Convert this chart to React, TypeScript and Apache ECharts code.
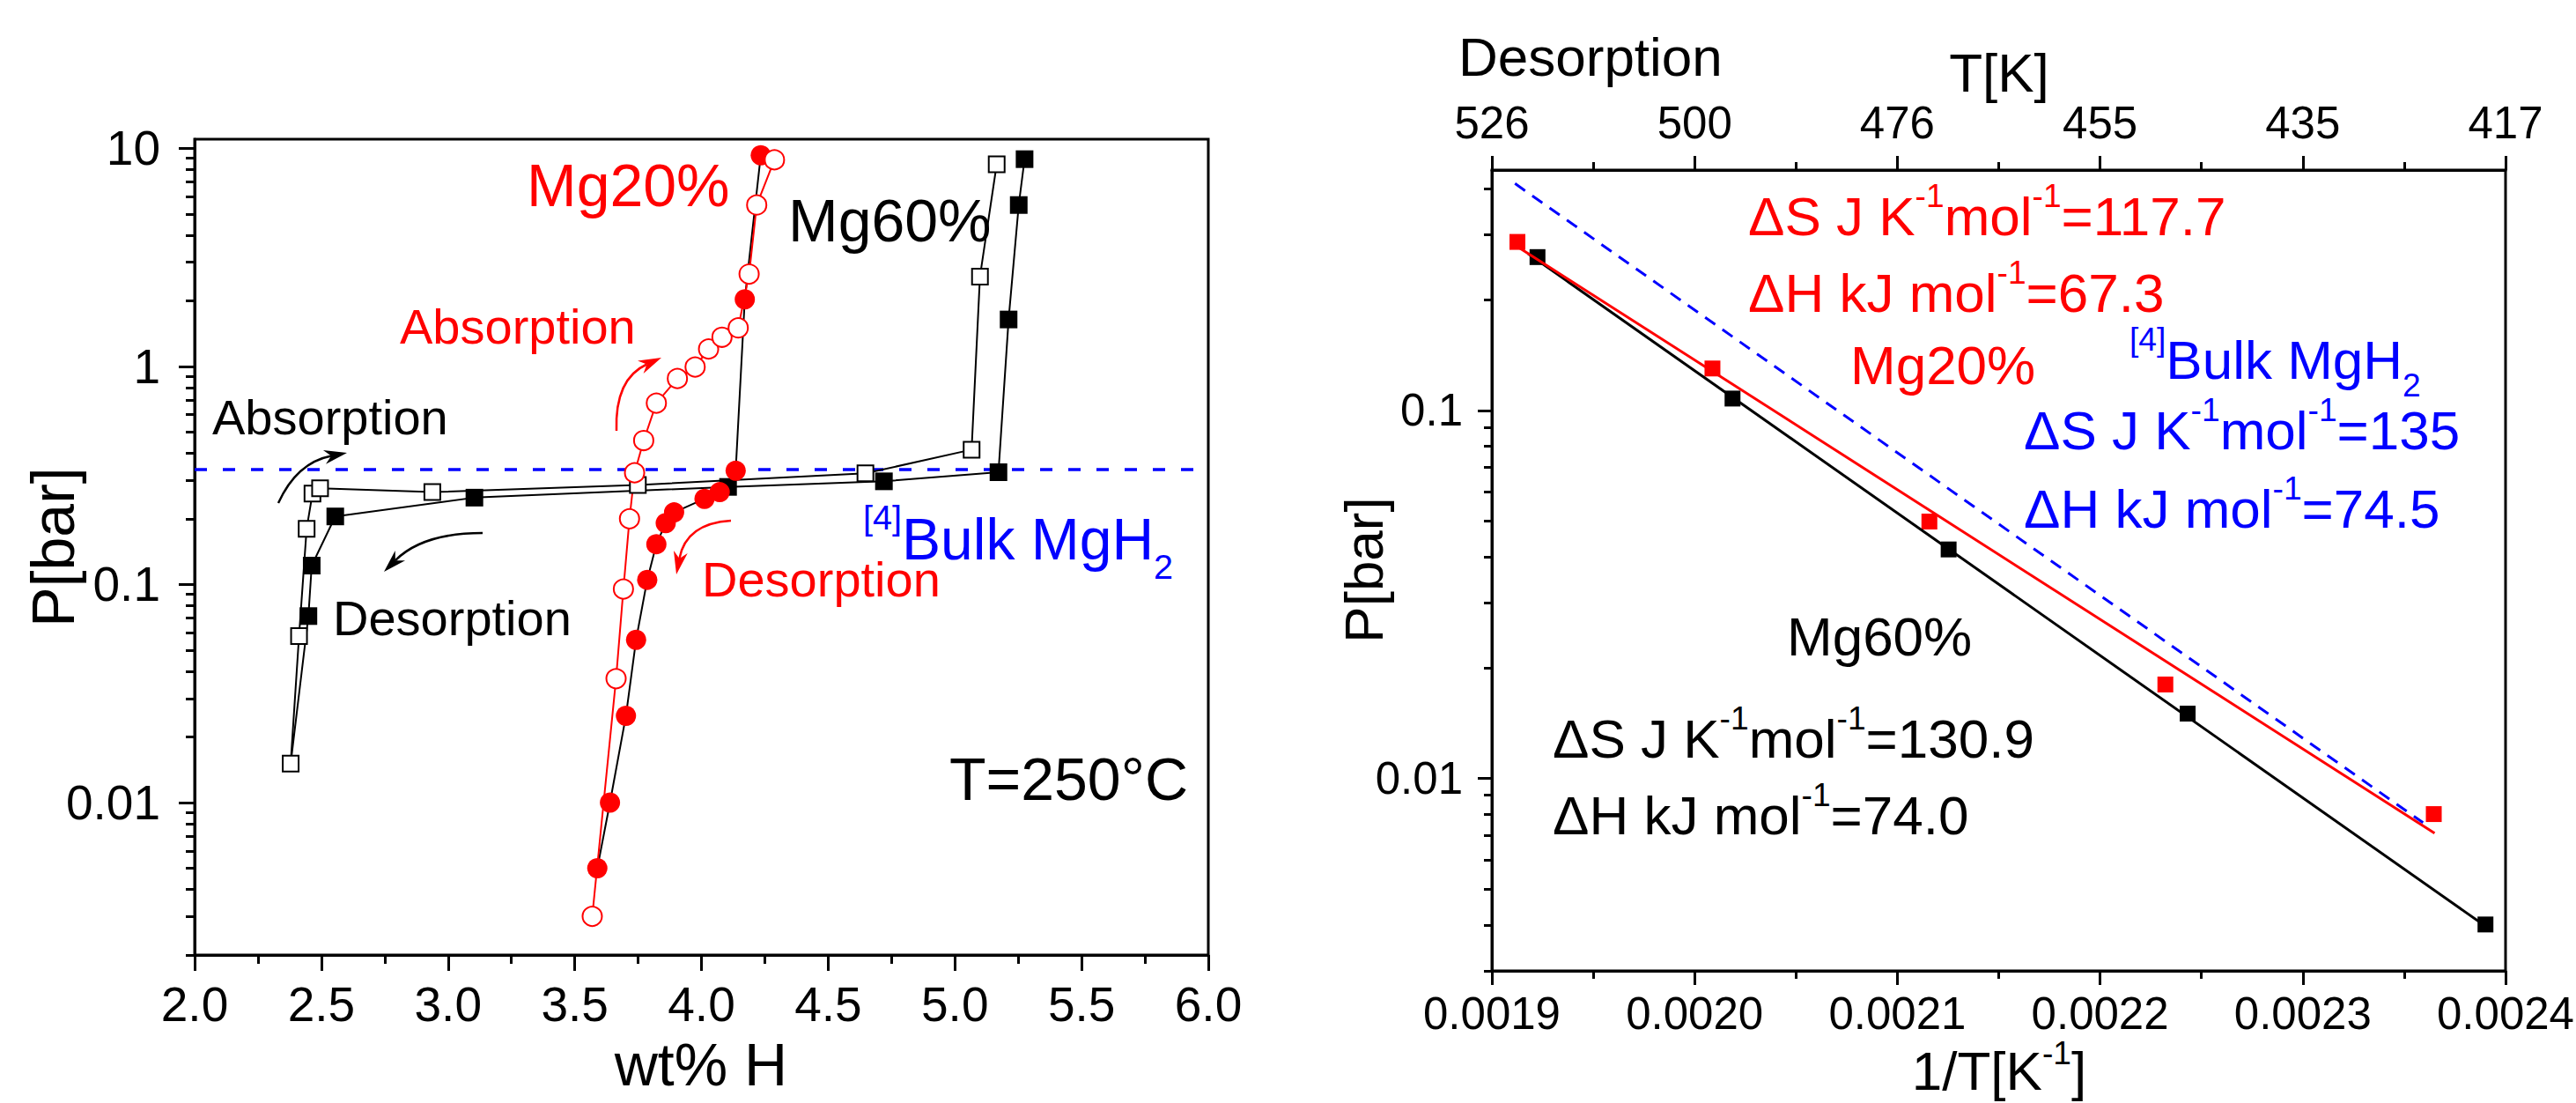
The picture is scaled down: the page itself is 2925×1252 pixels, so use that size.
import React, { useEffect, useRef } from "react";
import * as echarts from "echarts";

const FONT = "'Liberation Sans', Arial, Helvetica, sans-serif";

// ---------- Left panel: PCI isotherms at 250 °C ----------
// Mg60% desorption (filled black squares); last point closes onto absorption start
const mg60DesW = [5.275, 5.252, 5.212, 5.172, 4.72, 4.105, 3.104, 2.555, 2.462, 2.449, 2.379];
const mg60DesP = [8.91, 5.49, 1.64, 0.327, 0.297, 0.28, 0.25, 0.205, 0.122, 0.0716, 0.0151];
// Mg60% absorption (open black squares)
const mg60AbsW = [2.379, 2.412, 2.442, 2.465, 2.495, 2.938, 3.749, 4.647, 5.066, 5.099, 5.165];
const mg60AbsP = [0.0151, 0.058, 0.18, 0.261, 0.276, 0.265, 0.286, 0.323, 0.415, 2.58, 8.44];
// Mg20% desorption (filled red circles)
const mg20DesW = [4.234, 4.171, 4.135, 4.072, 4.012, 3.892, 3.859, 3.822, 3.786, 3.742, 3.702, 3.639, 3.589];
const mg20DesP = [9.28, 2.03, 0.332, 0.265, 0.247, 0.214, 0.191, 0.153, 0.105, 0.0557, 0.025, 0.01, 0.005];
// Mg20% absorption (open red circles)
const mg20AbsW = [3.569, 3.663, 3.692, 3.716, 3.736, 3.772, 3.822, 3.905, 3.975, 4.028, 4.081, 4.145, 4.188, 4.218, 4.288];
const mg20AbsP = [0.00301, 0.037, 0.0953, 0.2, 0.325, 0.457, 0.678, 0.879, 0.993, 1.2, 1.36, 1.5, 2.65, 5.49, 8.85];
// Bulk MgH2 plateau
const bulkPlateauW = [2.0, 6.0];
const bulkPlateauP = [0.336, 0.336];

const leftYMajor = [0.01, 0.1, 1, 10];
const leftYMinor = [
  0.002, 0.003, 0.004, 0.005, 0.006, 0.007, 0.008, 0.009,
  0.02, 0.03, 0.04, 0.05, 0.06, 0.07, 0.08, 0.09,
  0.2, 0.3, 0.4, 0.5, 0.6, 0.7, 0.8, 0.9,
  2, 3, 4, 5, 6, 7, 8, 9,
];

// ---------- Right panel: van't Hoff plot ----------
const mg20InvT = [0.0019126, 0.0020088, 0.0021158, 0.0022322, 0.0023646];
const mg20VhP = [0.287, 0.13, 0.0499, 0.018, 0.008];
const mg60InvT = [0.0019225, 0.0020187, 0.0021253, 0.0022432, 0.0023901];
const mg60VhP = [0.261, 0.1077, 0.0419, 0.015, 0.00401];
const mg20FitX = [0.0019126, 0.002365];
const mg20FitP = [0.2785, 0.0071];
const mg60FitX = [0.0019179, 0.0023904];
const mg60FitP = [0.2665, 0.003957];
const bulkFitX = [0.0019114, 0.0023593];
const bulkFitP = [0.4135, 0.00758];

const rightYMajor = [0.01, 0.1];
const rightYMinor = [
  0.003, 0.004, 0.005, 0.006, 0.007, 0.008, 0.009,
  0.02, 0.03, 0.04, 0.05, 0.06, 0.07, 0.08, 0.09,
  0.2, 0.3, 0.4,
];
const topTickLabels = ["526", "500", "476", "455", "435", "417"];

const zip = (xs: number[], ys: number[]) => xs.map((x, i) => [x, ys[i]]);

type Part = [string, "m" | "sup" | "sub"];

function plainText(text: string, x: number, y: number, F: number, color: string, align = "left", rotation = 0) {
  return {
    type: "text", x, y, rotation, z: 100, silent: true,
    style: { text, fill: color, fontSize: F, fontFamily: FONT, align, verticalAlign: "middle" },
  };
}

let measureCtx: CanvasRenderingContext2D | null = null;
function textWidth(s: string, F: number) {
  if (!measureCtx) measureCtx = document.createElement("canvas").getContext("2d");
  if (!measureCtx) return s.length * F * 0.55;
  measureCtx.font = `${F}px 'Liberation Sans', Arial, sans-serif`;
  return measureCtx.measureText(s).width;
}

// Text with super/subscripts, composed of separate text pieces laid side by side.
function composedText(parts: Part[], x: number, capY: number, F: number, color: string, align = "left", supShift = 0.373) {
  const sF = 0.6 * F;
  const widths = parts.map(([s, k]) => textWidth(s, k === "m" ? F : sF));
  const total = widths.reduce((a, b) => a + b, 0);
  let cx = align === "center" ? x - total / 2 : align === "right" ? x - total : x;
  const out: any[] = [];
  parts.forEach(([s, k], i) => {
    const size = k === "m" ? F : sF;
    const y = k === "m" ? capY : k === "sup" ? capY - supShift * F : capY + 0.47 * F;
    out.push(plainText(s, cx, y, size, color, "left"));
    cx += widths[i];
  });
  return out;
}

function arrow(s: number[], c: number[], e: number[], color: string) {
  const dx = e[0] - c[0], dy = e[1] - c[1];
  const len = Math.hypot(dx, dy);
  const ux = dx / len, uy = dy / len;
  const nx = -uy, ny = ux;
  const L = 26, w = 8;
  const bx = e[0] - ux * L, by = e[1] - uy * L;
  const ix = e[0] - ux * L * 0.7, iy = e[1] - uy * L * 0.7;
  return [
    { type: "bezierCurve", z: 100, silent: true, shape: { x1: s[0], y1: s[1], x2: ix, y2: iy, cpx1: c[0], cpy1: c[1] }, style: { stroke: color, lineWidth: 2.5, fill: "none" } },
    { type: "polygon", z: 100, silent: true, shape: { points: [[e[0], e[1]], [bx + nx * w, by + ny * w], [ix, iy], [bx - nx * w, by - ny * w]] }, style: { fill: color } },
  ];
}

const BLACK = "#000000";
const RED = "#ff0000";
const BLUE = "#0000ff";

function axisCommon(fontSize: number, margin: number) {
  return {
    axisLine: { show: true, onZero: false, lineStyle: { color: BLACK, width: 3 } },
    splitLine: { show: false },
    minorSplitLine: { show: false },
    axisLabel: { color: BLACK, fontSize, fontFamily: FONT, margin },
  };
}

export default function App() {
  const ref = useRef<HTMLDivElement>(null);
  useEffect(() => {
    document.body.style.margin = "0";
    if (!ref.current) return;
    const chart = echarts.init(ref.current, undefined, { renderer: "svg" });

    const mg60DesData: any[] = zip(mg60DesW, mg60DesP).map((v, i, arr) =>
      i === arr.length - 1 ? { value: v, symbol: "none" } : v
    );

    const option: any = {
      animation: false,
      backgroundColor: "#ffffff",
      grid: [
        { left: 221, top: 158, width: 1151, height: 926, show: true, borderColor: BLACK, borderWidth: 3, backgroundColor: "transparent", containLabel: false, outerBoundsMode: "none" },
        { left: 1694, top: 193, width: 1151, height: 909, show: true, borderColor: BLACK, borderWidth: 3, backgroundColor: "transparent", containLabel: false, outerBoundsMode: "none" },
      ],
      xAxis: [
        {
          gridIndex: 0, type: "value", position: "bottom", min: 2, max: 6, interval: 0.5,
          ...axisCommon(55, 28),
          axisTick: { show: true, inside: false, length: 18, lineStyle: { color: BLACK, width: 3 } },
          minorTick: { show: true, splitNumber: 2, length: 10, lineStyle: { color: BLACK, width: 3 } },
          axisLabel: { color: BLACK, fontSize: 55, fontFamily: FONT, margin: 28, formatter: (v: number) => v.toFixed(1) },
        },
        {
          gridIndex: 1, type: "value", position: "bottom", min: 0.0019, max: 0.0024, interval: 0.0001,
          ...axisCommon(51, 23),
          axisTick: { show: true, inside: false, length: 16, lineStyle: { color: BLACK, width: 3 } },
          minorTick: { show: true, splitNumber: 2, length: 9, lineStyle: { color: BLACK, width: 3 } },
          axisLabel: { color: BLACK, fontSize: 51, fontFamily: FONT, margin: 23, formatter: (v: number) => v.toFixed(4) },
        },
        {
          gridIndex: 1, type: "value", position: "top", min: 0.0019, max: 0.0024, interval: 0.0001,
          ...axisCommon(51, 28),
          axisTick: { show: true, inside: false, length: 16, lineStyle: { color: BLACK, width: 3 } },
          minorTick: { show: true, splitNumber: 2, length: 9, lineStyle: { color: BLACK, width: 3 } },
          axisLabel: {
            color: BLACK, fontSize: 51, fontFamily: FONT, margin: 28,
            formatter: (v: number) => topTickLabels[Math.round((v - 0.0019) / 0.0001)] ?? "",
          },
        },
      ],
      yAxis: [
        {
          gridIndex: 0, type: "log", logBase: 10, position: "left", min: 0.002, max: 11,
          ...axisCommon(55, 39),
          axisTick: { show: true, inside: false, length: 18, customValues: leftYMajor, lineStyle: { color: BLACK, width: 3 } },
          minorTick: { show: false },
          axisLabel: { color: BLACK, fontSize: 55, fontFamily: FONT, margin: 39, customValues: leftYMajor, formatter: (v: number) => String(v) },
        },
        {
          gridIndex: 0, type: "log", logBase: 10, position: "left", min: 0.002, max: 11,
          axisLine: { show: false, onZero: false },
          splitLine: { show: false },
          axisTick: { show: true, inside: false, length: 10, customValues: leftYMinor, lineStyle: { color: BLACK, width: 3 } },
          minorTick: { show: false },
          axisLabel: { show: false },
        },
        {
          gridIndex: 1, type: "log", logBase: 10, position: "left", min: 0.003, max: 0.45,
          ...axisCommon(51, 33),
          axisTick: { show: true, inside: false, length: 16, customValues: rightYMajor, lineStyle: { color: BLACK, width: 3 } },
          minorTick: { show: false },
          axisLabel: { color: BLACK, fontSize: 51, fontFamily: FONT, margin: 33, customValues: rightYMajor, formatter: (v: number) => String(v) },
        },
        {
          gridIndex: 1, type: "log", logBase: 10, position: "left", min: 0.003, max: 0.45,
          axisLine: { show: false, onZero: false },
          splitLine: { show: false },
          axisTick: { show: true, inside: false, length: 9, customValues: rightYMinor, lineStyle: { color: BLACK, width: 3 } },
          minorTick: { show: false },
          axisLabel: { show: false },
        },
      ],
      series: [
        {
          name: "Bulk MgH2 plateau", type: "line", xAxisIndex: 0, yAxisIndex: 0,
          data: zip(bulkPlateauW, bulkPlateauP), symbol: "none",
          lineStyle: { color: BLUE, width: 3.5, type: [14, 18] }, silent: true,
        },
        {
          name: "Mg60% desorption", type: "line", xAxisIndex: 0, yAxisIndex: 0,
          data: mg60DesData, symbol: "rect", symbolSize: 20, showAllSymbol: true,
          itemStyle: { color: BLACK, borderWidth: 0 }, lineStyle: { color: BLACK, width: 2 }, silent: true,
        },
        {
          name: "Mg60% absorption", type: "line", xAxisIndex: 0, yAxisIndex: 0,
          data: zip(mg60AbsW, mg60AbsP), symbol: "rect", symbolSize: 18, showAllSymbol: true,
          itemStyle: { color: "#ffffff", borderColor: BLACK, borderWidth: 2 }, lineStyle: { color: BLACK, width: 2 }, silent: true,
        },
        {
          name: "Mg20% desorption", type: "line", xAxisIndex: 0, yAxisIndex: 0,
          data: zip(mg20DesW, mg20DesP), symbol: "circle", symbolSize: 23, showAllSymbol: true,
          itemStyle: { color: RED, borderWidth: 0 }, lineStyle: { color: BLACK, width: 2 }, silent: true,
        },
        {
          name: "Mg20% absorption", type: "line", xAxisIndex: 0, yAxisIndex: 0,
          data: zip(mg20AbsW, mg20AbsP), symbol: "circle", symbolSize: 22, showAllSymbol: true,
          itemStyle: { color: "#ffffff", borderColor: RED, borderWidth: 2 }, lineStyle: { color: RED, width: 2 }, silent: true,
        },
        // right panel
        {
          name: "Bulk fit", type: "line", xAxisIndex: 1, yAxisIndex: 2,
          data: zip(bulkFitX, bulkFitP), symbol: "none",
          lineStyle: { color: BLUE, width: 3, type: [14, 10] }, silent: true,
        },
        {
          name: "Mg60% fit", type: "line", xAxisIndex: 1, yAxisIndex: 2,
          data: zip(mg60FitX, mg60FitP), symbol: "none",
          lineStyle: { color: BLACK, width: 3 }, silent: true,
        },
        {
          name: "Mg20% fit", type: "line", xAxisIndex: 1, yAxisIndex: 2,
          data: zip(mg20FitX, mg20FitP), symbol: "none",
          lineStyle: { color: RED, width: 3 }, silent: true,
        },
        {
          name: "Mg60% vH", type: "scatter", xAxisIndex: 1, yAxisIndex: 2,
          data: zip(mg60InvT, mg60VhP), symbol: "rect", symbolSize: 18,
          itemStyle: { color: BLACK, opacity: 1 }, silent: true,
        },
        {
          name: "Mg20% vH", type: "scatter", xAxisIndex: 1, yAxisIndex: 2,
          data: zip(mg20InvT, mg20VhP), symbol: "rect", symbolSize: 18,
          itemStyle: { color: RED, opacity: 1 }, silent: true,
        },
      ],
      graphic: [
        // left panel titles
        plainText("P[bar]", 60, 621, 68, BLACK, "center", Math.PI / 2),
        plainText("wt% H", 796, 1208, 68, BLACK, "center"),
        // left annotations
        plainText("Mg20%", 598, 210, 68, RED),
        plainText("Mg60%", 895, 250, 68, BLACK),
        plainText("Absorption", 454, 370, 56, RED),
        plainText("Absorption", 241, 473, 56, BLACK),
        plainText("Desorption", 378, 701, 56, BLACK),
        plainText("Desorption", 797, 657, 56, RED),
        ...composedText([["[4]", "sup"], ["Bulk MgH", "m"], ["2", "sub"]], 980, 612, 66, BLUE),
        plainText("T=250°C", 1349, 884, 68, BLACK, "right"),
        ...arrow([316, 571], [337, 525], [394, 514], BLACK),
        ...arrow([548, 605], [480, 605], [436, 649], BLACK),
        ...arrow([700, 489], [698, 430], [751, 406], RED),
        ...arrow([830, 591], [779, 594], [768, 652], RED),
        // right panel titles
        plainText("Desorption", 1656, 64, 62, BLACK),
        plainText("T[K]", 2270, 82, 62, BLACK, "center"),
        ...composedText([["1/T[K", "m"], ["-1", "sup"], ["]", "m"]], 2270, 1215, 62, BLACK, "center", 0.32),
        plainText("P[bar]", 1548, 647, 62, BLACK, "center", Math.PI / 2),
        // right annotations
        ...composedText([["ΔS J K", "m"], ["-1", "sup"], ["mol", "m"], ["-1", "sup"], ["=117.7", "m"]], 1985, 245, 62, RED),
        ...composedText([["ΔH kJ mol", "m"], ["-1", "sup"], ["=67.3", "m"]], 1985, 332, 62, RED),
        plainText("Mg20%", 2101, 414, 62, RED),
        ...composedText([["[4]", "sup"], ["Bulk MgH", "m"], ["2", "sub"]], 2418, 408, 62, BLUE),
        ...composedText([["ΔS J K", "m"], ["-1", "sup"], ["mol", "m"], ["-1", "sup"], ["=135", "m"]], 2298, 488, 62, BLUE),
        ...composedText([["ΔH kJ mol", "m"], ["-1", "sup"], ["=74.5", "m"]], 2298, 577, 62, BLUE),
        plainText("Mg60%", 2029, 722, 62, BLACK),
        ...composedText([["ΔS J K", "m"], ["-1", "sup"], ["mol", "m"], ["-1", "sup"], ["=130.9", "m"]], 1763, 838, 62, BLACK),
        ...composedText([["ΔH kJ mol", "m"], ["-1", "sup"], ["=74.0", "m"]], 1763, 925, 62, BLACK),
      ],
    };

    chart.setOption(option);
    return () => {
      chart.dispose();
    };
  }, []);

  return <div ref={ref} style={{ width: 2925, height: 1252, background: "#fff" }} />;
}
